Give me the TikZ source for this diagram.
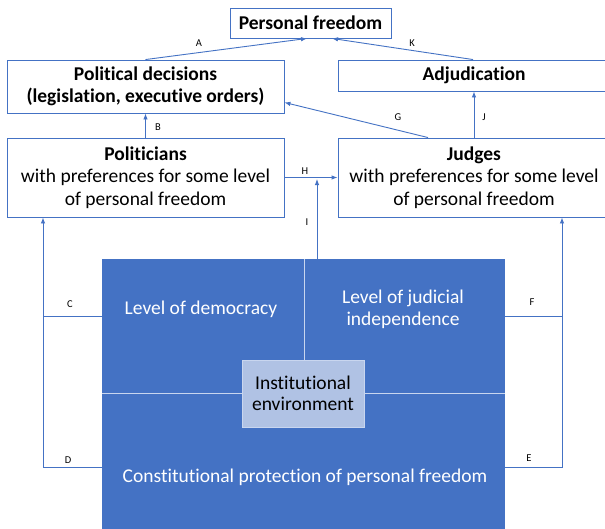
\documentclass[tikz,border=0pt]{standalone}
\usepackage{fontspec}
\setmainfont{Carlito}[Ligatures=NoCommon]
\usetikzlibrary{arrows.meta,calc}
\definecolor{obl}{HTML}{4472C4}
\definecolor{envfill}{HTML}{B0C2E4}
\definecolor{divl}{HTML}{C9D6EF}
\tikzset{
  wbox/.style={draw=obl, line width=0.9pt, fill=white, inner sep=0pt, align=center,
    font=\fontsize{19.5}{22.5}\selectfont},
  arr/.style={draw=obl, line width=0.9pt, -{Latex[length=6pt,width=4.5pt]}},
  ln/.style={draw=obl, line width=0.9pt},
  lbl/.style={font=\fontsize{10.5}{12}\selectfont, inner sep=0pt},
  wtxt/.style={text=white, align=center, inner sep=0pt, font=\fontsize{19.5}{22.5}\selectfont},
  divline/.style={draw=divl, line width=0.8pt}
}
\begin{document}
\begin{tikzpicture}[x=1pt,y=-1pt]
\clip (0,0) rectangle (605,528);
\fill[white] (0,0) rectangle (605,528);
% boxes
\node[wbox, minimum width=161pt, minimum height=30pt] (pf) at (310.5,23) {\textbf{Personal freedom}};
\node[wbox, minimum width=277pt, minimum height=53pt] (pd) at (145.5,86.5) {\textbf{Political decisions}\\\textbf{(legislation, executive orders)}};
\node[wbox, minimum width=272pt, minimum height=31pt] (adj) at (474,75.5) {\textbf{Adjudication}};
\node[wbox, minimum width=277pt, minimum height=79pt] (pol) at (145.5,177.5) {\textbf{Politicians}\\with preferences for some level\\of personal freedom};
\node[wbox, minimum width=272pt, minimum height=79pt] (jud) at (474,177.5) {\textbf{Judges}\\with preferences for some level\\of personal freedom};
% institutional block
\node[fill=obl, draw=none, minimum width=403pt, minimum height=281pt, inner sep=0pt] (blue) at (303.5,399.5) {};
\node[draw=divl, line width=0.9pt, fill=envfill, minimum width=122pt, minimum height=67pt, inner sep=0pt, align=center,
  font=\fontsize{19.5}{21.5}\selectfont] (env) at (303,393.5) {Institutional\\environment};
\coordinate (vd) at (304,259);
\draw[divline] (vd) -- (vd |- env.north);
\draw[divline] (blue.west |- env.west) -- (env.west);
\draw[divline] (env.east) -- (blue.east |- env.east);
\node[wtxt] (dem) at (201,309) {Level of democracy};
\node[wtxt] (jind) at (403,309.5) {Level of judicial\\independence};
\node[wtxt] (cons) at (305,477) {Constitutional protection of personal freedom};
% connectors
\draw[arr] (pd.north) -- ([xshift=-3.5pt]pf.south);
\draw[arr] ([xshift=-1pt]adj.north) -- ([xshift=21.5pt]pf.south);
\draw[arr] (pol.north) -- (pd.south);
\draw[arr] (jud.north) -- (adj.south);
\draw[arr] ([xshift=-46pt]jud.north) -- ([yshift=11pt]pd.south east);
\draw[arr] (pol.east) -- (jud.west);
\coordinate (hI) at (317,179);
\draw[arr] (hI |- blue.north) -- (hI);
\coordinate (Lc) at (43,316);
\coordinate (Ld) at (43,467);
\coordinate (Rc) at (562,316);
\coordinate (Rd) at (562,467);
\draw[arr] (Ld -| blue.west) -- (Ld) -- (Ld |- pol.south);
\draw[ln] (Lc -| blue.west) -- (Lc);
\draw[arr] (Rd -| blue.east) -- (Rd) -- (Rd |- jud.south);
\draw[ln] (Rc -| blue.east) -- (Rc);
% labels
\node[lbl] (la) at (199,43) {A};
\node[lbl] (lk) at (412,43) {K};
\node[lbl] (lb) at (158,127) {B};
\node[lbl] (lg) at (398,117) {G};
\node[lbl] (lj) at (484,117) {J};
\node[lbl] (lh) at (305,171) {H};
\node[lbl] (li) at (307,222) {I};
\node[lbl] (lc) at (70,304) {C};
\node[lbl] (ld) at (68,460) {D};
\node[lbl] (lf) at (532,302) {F};
\node[lbl] (le) at (529,458) {E};
\end{tikzpicture}
\end{document}
